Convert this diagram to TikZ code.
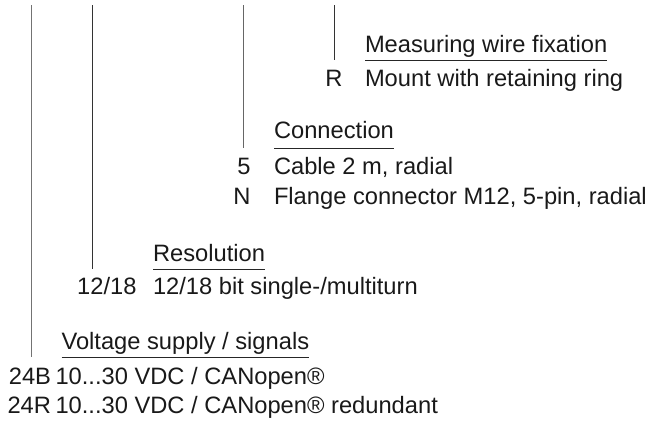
\documentclass[tikz,border=0pt]{standalone}
\usepackage{fontspec}
\setmainfont{Liberation Sans}
\begin{document}
\begin{tikzpicture}[x=1pt,y=-1pt,
  txt/.style={inner sep=0pt,outer sep=0pt,font=\fontsize{23.7}{28}\selectfont,text=black!90},
  hdr/.style={txt,anchor=base west},
  code/.style={txt,anchor=base east},
  item/.style={txt,anchor=base west},
  uline/.style={line width=0.9pt,black!85},
  vline/.style={line width=1pt,black!80}]
\useasboundingbox (0,0) rectangle (654,421);
% Measuring wire fixation
\node[hdr] (h4) at (365,52.7) {Measuring wire fixation};
\node[code] (c4a) at (342.5,86) {R};
\node[item] (i4a) at (365,86) {Mount with retaining ring};
% Connection
\node[hdr] (h3) at (274,138) {Connection};
\node[code] (c3a) at (250.5,174.3) {5};
\node[item] (i3a) at (274,174.3) {Cable 2 m, radial};
\node[code] (c3b) at (250.5,204.3) {N};
\node[item] (i3b) at (274,204.3) {Flange connector M12, 5-pin, radial};
% Resolution
\node[hdr] (h2) at (153,261) {Resolution};
\node[code] (c2a) at (136.5,294.3) {12/18};
\node[item] (i2a) at (153,294.3) {12/18 bit single-/multiturn};
% Voltage supply
\node[hdr] (h1) at (61.5,349.3) {Voltage supply / signals};
\node[code] (c1a) at (51,384) {24B};
\node[item] (i1a) at (55.5,384) {10...30 VDC / CANopen®};
\node[code] (c1b) at (51,413.3) {24R};
\node[item] (i1b) at (55.5,413.3) {10...30 VDC / CANopen® redundant};
% underlines
\coordinate (u4) at (0,60);
\coordinate (u3) at (0,148.3);
\coordinate (u2) at (0,269);
\coordinate (u1) at (0,357.3);
\draw[uline] (h4.west |- u4) -- (h4.east |- u4);
\draw[uline] (h3.west |- u3) -- (h3.east |- u3);
\draw[uline] (h2.west |- u2) -- (h2.east |- u2);
\draw[uline] (h1.west |- u1) -- (h1.east |- u1);
% vertical lines
\coordinate (t1) at (31.7,5);
\coordinate (t2) at (92.3,5);
\coordinate (t3) at (243.3,5);
\coordinate (t4) at (334,5);
\draw[vline,black!55] (t1) -- (t1 |- u1);
\draw[vline] (t2) -- (t2 |- u2);
\draw[vline,black!60] (t3) -- (t3 |- u3);
\draw[vline] (t4) -- (t4 |- u4);
\end{tikzpicture}
\end{document}
